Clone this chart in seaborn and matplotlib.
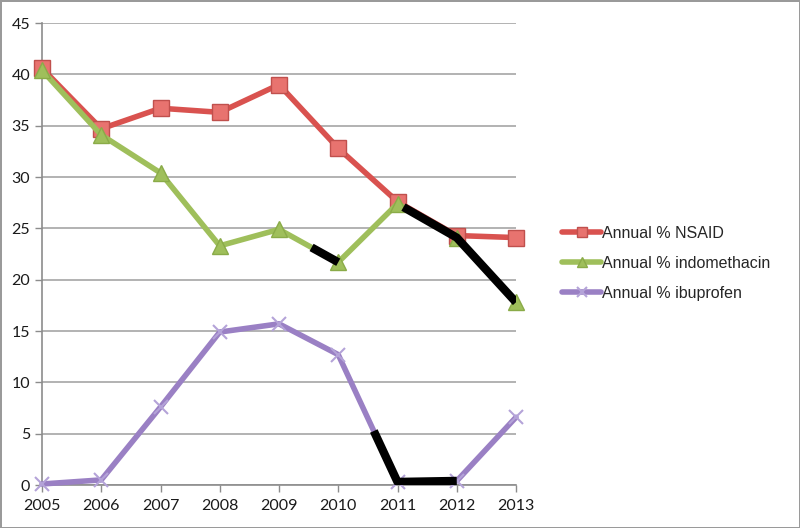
import numpy as np
import pandas as pd
import matplotlib
matplotlib.use("Agg")
import matplotlib.pyplot as plt
import seaborn as sns

# values
years = [2005, 2006, 2007, 2008, 2009, 2010, 2011, 2012, 2013]
nsaid = [40.6, 34.7, 36.7, 36.3, 39.0, 32.8, 27.6, 24.3, 24.1]
indomethacin = [40.4, 34.1, 30.4, 23.3, 24.9, 21.7, 27.4, 24.1, 17.8]
ibuprofen = [0.1, 0.5, 7.6, 14.9, 15.7, 12.7, 0.3, 0.4, 6.6]
series_names = ["Annual % NSAID", "Annual % indomethacin", "Annual % ibuprofen"]

# black overlay strokes: (series index, from year, to year)
highlights = [(1, 2009.55, 2010.0), (1, 2011.1, 2013.0), (2, 2010.6, 2012.0)]

colors = ["#D9524F", "#9FBF5B", "#9A80C4"]
edge_colors = ["#c0504d", "#8aab48", "#b4a3d8"]
face_colors = ["#E8736F", "#9FBF5B", "#9A80C4"]
markers = ["s", "^", "x"]

sns.set_style("white")
plt.rcParams["font.family"] = ["Liberation Sans", "DejaVu Sans"]

df = pd.DataFrame({"year": years * 3,
                   "value": nsaid + indomethacin + ibuprofen,
                   "series": [s for s in series_names for _ in years]})

fig = plt.figure(figsize=(8, 5.28), dpi=100, edgecolor="#9a9a9a", linewidth=2)
ax = fig.add_axes([0.0525, 0.0814, 0.5925, 0.875])

for name, col, ec, fc, mk in zip(series_names, colors, edge_colors, face_colors, markers):
    sub = df[df["series"] == name]
    sns.lineplot(data=sub, x="year", y="value", ax=ax, color=col, lw=4,
                 marker=mk, markersize=11 if mk != "x" else 10,
                 markeredgecolor=ec, markerfacecolor=fc,
                 markeredgewidth=1 if mk != "x" else 1.5,
                 label=name, clip_on=False, zorder=3)

all_series = [nsaid, indomethacin, ibuprofen]
for idx, x0, x1 in highlights:
    xs = [x0] + [y for y in years if x0 < y < x1] + [x1]
    ys = np.interp(xs, years, all_series[idx])
    ax.plot(xs, ys, color="black", lw=6, solid_capstyle="butt", zorder=4)

ax.set_xlim(2005, 2013)
ax.set_ylim(0, 45)
ax.set_yticks(range(0, 46, 5))
ax.set_xticks(years)
ax.set_xlabel("")
ax.set_ylabel("")
ax.grid(axis="y", color="#a6a6a6", lw=1.2)
ax.grid(axis="x", visible=False)
ax.set_axisbelow(True)
for s in ["top", "right"]:
    ax.spines[s].set_visible(False)
for s in ["left", "bottom"]:
    ax.spines[s].set_color("#8c8c8c")
    ax.spines[s].set_linewidth(1.2)
ax.tick_params(axis="both", labelsize=11.5, colors="#8c8c8c", labelcolor="#1a1a1a",
               length=5, width=1, direction="out", left=True, bottom=True)
ax.tick_params(axis="x", pad=5)
for lab in ax.get_xticklabels() + ax.get_yticklabels():
    lab.set_family(["Lato", "DejaVu Sans"])

if ax.get_legend():
    ax.get_legend().remove()
handles, labels = ax.get_legend_handles_labels()
fig.legend(handles, labels, loc="upper left", bbox_to_anchor=(0.695, 0.585),
           frameon=False, fontsize=11.5, handlelength=2.4, handletextpad=0.1,
           labelspacing=0.95, borderaxespad=0, markerscale=0.65)

fig.savefig("out.png", dpi=100)
